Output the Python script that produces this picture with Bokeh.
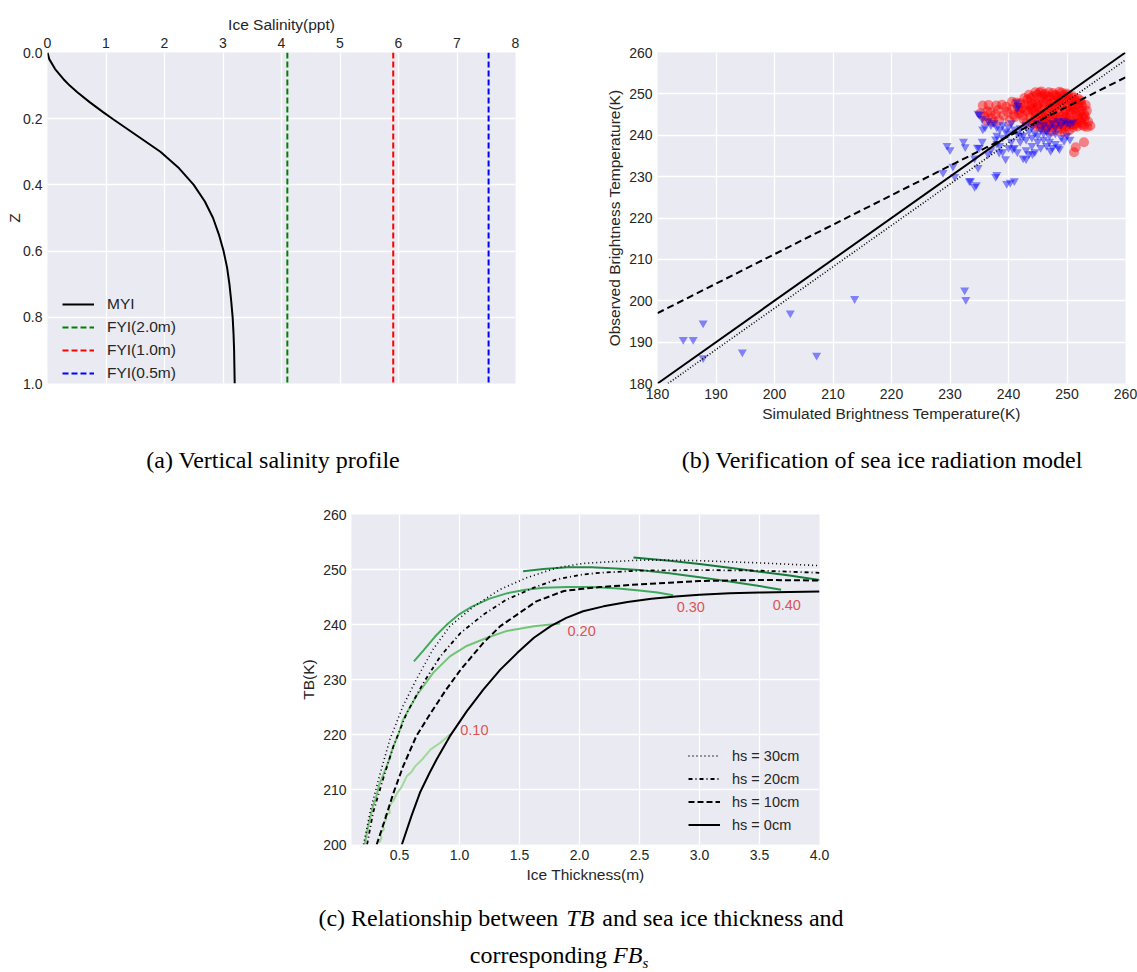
from bokeh.plotting import figure
from bokeh.layouts import column, row
from bokeh.models import Range1d, FixedTicker, Legend, LegendItem, NumeralTickFormatter, Div
from bokeh.embed import file_html
from bokeh.resources import INLINE
from bokeh.core.properties import value

# ---------------- (a) salinity profile ----------------
myi_z = [0.0, 0.02, 0.05, 0.08, 0.1, 0.12, 0.15, 0.18, 0.2, 0.25, 0.3, 0.35, 0.4, 0.45, 0.5, 0.55, 0.6, 0.65, 0.7, 0.75, 0.8, 0.85, 0.9, 0.95, 1.0]
myi_s = [0.0, 0.03, 0.13, 0.27, 0.38, 0.51, 0.72, 0.95, 1.11, 1.52, 1.93, 2.25, 2.50, 2.69, 2.83, 2.93, 3.01, 3.07, 3.11, 3.14, 3.165, 3.18, 3.19, 3.195, 3.20]
fyi_names = ["FYI(2.0m)", "FYI(1.0m)", "FYI(0.5m)"]
fyi_salinity = [4.1, 5.91, 7.54]
fyi_colors = ["#008000", "#ff0000", "#0000ff"]
sal_ticks = [0, 1, 2, 3, 4, 5, 6, 7, 8]
z_ticks = [0.0, 0.2, 0.4, 0.6, 0.8, 1.0]

# ---------------- (b) model verification ----------------
red_x = [235.6, 236.6, 237.9, 238.9, 240.6, 241.3, 235.2, 235.9, 236.4, 237.1, 237.8, 238.4, 239.2, 239.8, 240.5, 241.1, 241.8, 242.3, 242.0, 236.2, 237.4, 240.2, 242.6,
         243.2, 243.6, 243.4, 243.8, 243.1, 244.2, 244.5, 244.1, 244.7, 244.3, 244.8,
         245.3, 245.6, 245.2, 245.8, 245.4, 245.9, 245.5, 246.2, 246.5, 246.1, 246.7, 246.3, 246.8, 246.4,
         247.1, 247.5, 247.2, 247.7, 247.3, 247.8, 247.4, 248.2, 248.6, 248.1, 248.7, 248.3, 248.8, 248.4,
         249.1, 249.5, 249.2, 249.7, 249.3, 249.8, 249.4, 249.6, 250.2, 250.6, 250.1, 250.7, 250.3, 250.8, 250.4,
         251.2, 251.6, 251.1, 251.7, 251.3, 251.8, 252.3, 252.6, 252.2, 252.7, 252.4, 252.9,
         253.2, 253.4, 253.1, 253.6, 254.0, 253.5, 252.9, 251.5, 251.2,
         243.8, 244.9, 245.9, 246.9, 247.8, 248.7, 249.9, 250.9, 251.9,
         244.0, 245.0, 246.0, 247.0, 248.0, 249.0, 250.0, 251.0, 252.0,
         244.4, 245.3, 246.4, 247.5, 248.5, 249.5, 250.5, 251.5, 252.5,
         244.6, 245.6, 246.6, 247.6, 248.6, 249.6, 250.6, 251.6, 252.6,
         246.0, 247.0, 248.0, 249.0, 250.0, 251.0,
         243.5, 244.6, 245.6, 246.6, 247.6, 248.4, 249.4, 250.4, 251.4, 252.4,
         243.9, 244.9, 245.9, 246.9, 247.9, 248.9, 249.9, 250.9, 251.9, 252.9,
         244.2, 245.2, 246.2, 247.2, 248.2, 249.2, 250.2, 251.2, 252.2, 253.0,
         242.8, 242.4, 241.6, 243.0, 242.7, 239.6, 238.2, 236.9, 240.9, 241.9]
red_y = [247.2, 247.3, 247.2, 247.4, 248.1, 247.9, 245.3, 244.6, 245.8, 244.1, 245.0, 243.7, 244.8, 245.6, 246.3, 244.4, 245.3, 246.6, 247.8, 243.6, 243.2, 243.5, 243.8,
         248.6, 247.1, 245.6, 244.2, 242.9, 249.4, 248.0, 246.5, 245.1, 243.6, 242.2,
         250.3, 249.1, 247.7, 246.3, 244.8, 243.3, 241.9, 250.0, 248.6, 247.2, 245.7, 244.2, 242.8, 241.4,
         249.3, 248.0, 246.6, 245.1, 243.7, 242.3, 240.9, 249.6, 248.4, 247.0, 245.6, 244.1, 242.7, 241.2,
         250.3, 249.0, 247.6, 246.1, 244.6, 243.2, 241.8, 240.5, 249.7, 248.3, 246.9, 245.4, 244.0, 242.6, 241.2,
         249.0, 247.6, 246.2, 244.8, 243.4, 242.1, 248.4, 247.0, 245.6, 244.3, 243.0, 242.2,
         247.3, 245.9, 244.6, 243.3, 242.3, 242.0, 238.3, 237.1, 235.9,
         249.0, 249.8, 249.6, 250.4, 249.7, 250.5, 250.1, 249.5, 248.8,
         247.6, 246.9, 248.1, 247.6, 248.3, 248.5, 247.9, 247.3, 247.1,
         245.9, 245.4, 245.0, 246.9, 246.4, 245.3, 245.9, 245.6, 246.0,
         244.0, 243.5, 243.8, 244.2, 243.4, 243.9, 243.5, 242.8, 242.5,
         242.3, 241.9, 242.5, 241.5, 242.1, 241.9,
         249.8, 250.4, 250.6, 249.4, 250.2, 249.2, 249.7, 248.8, 248.3, 247.8,
         246.2, 247.4, 244.6, 246.4, 244.8, 247.3, 244.5, 246.7, 244.1, 245.2,
         242.8, 242.6, 243.0, 242.6, 243.0, 242.4, 242.8, 242.5, 243.6, 243.9,
         247.5, 244.8, 246.8, 246.0, 249.0, 246.9, 246.1, 245.5, 244.9, 246.0]
blue_x = [184.4, 186.1, 187.8, 187.8, 194.5, 202.7, 207.2, 213.7, 232.5, 232.7,
          229.5, 230.0, 232.3, 232.6, 228.8, 230.5, 230.8, 233.5, 234.5, 238.0, 239.7, 240.3, 241.0, 233.3, 234.2, 237.8,
          235.0, 234.2, 234.8, 236.5, 235.5, 234.7, 237.8, 238.4, 239.5, 243.0, 244.1, 240.7, 247.2, 248.7, 249.5,
          235.0, 235.5, 236.0, 236.5, 237.0, 237.5, 238.0, 238.5, 239.0, 239.5, 240.0, 240.5, 241.0, 241.5, 242.0, 242.5,
          243.0, 243.5, 244.0, 244.5, 245.0, 245.5, 246.0, 246.5, 247.0, 247.5, 248.0, 248.5, 249.0, 249.5, 250.0, 250.5, 251.0,
          241.4, 241.6, 241.5, 234.8, 235.6,
          237.0, 238.0, 238.5, 239.0, 240.0, 240.5, 241.0, 241.5, 242.0, 242.5, 243.0, 243.5, 244.0, 244.5, 245.0, 245.5,
          246.0, 246.5, 247.0, 247.5, 248.0, 248.5, 249.0, 250.0, 250.5, 244.0, 243.0, 242.0, 247.0, 248.0, 245.0, 246.0,
          239.0, 240.0, 238.0]
blue_y = [190.6, 190.6, 194.6, 186.2, 187.6, 197.0, 186.8, 200.5, 202.6, 200.3,
          237.5, 236.5, 238.5, 237.2, 231.0, 232.5, 230.0, 229.0, 228.0, 230.5, 228.3, 228.6, 229.0, 229.0, 227.6, 230.0,
          237.0, 234.5, 232.2, 235.5, 238.5, 237.1, 239.1, 235.9, 234.3, 234.3, 235.5, 236.7, 236.3, 236.7, 238.7,
          245.0, 244.0, 242.0, 243.5, 242.5, 243.0, 242.0, 241.5, 242.5, 241.0, 242.0, 243.0, 241.5, 240.5, 241.8, 240.0,
          242.5, 241.0, 242.0, 240.5, 243.0, 241.5, 242.5, 241.0, 242.0, 243.0, 242.0, 243.5, 242.5, 243.5, 243.0, 242.8, 243.2,
          248.0, 247.2, 246.5, 245.3, 241.5,
          236.5, 238.0, 237.5, 236.0, 237.0, 238.5, 237.0, 236.0, 238.5, 234.5, 236.5, 235.5, 237.5, 236.0, 238.5, 237.0,
          239.0, 237.5, 238.5, 237.0, 238.0, 237.2, 239.5, 240.0, 239.0, 239.5, 239.0, 240.0, 240.0, 240.5, 240.0, 240.5,
          239.5, 240.5, 240.0]
one_to_one_x = [180, 260]
one_to_one_y = [180, 260]
dotted_fit_x = [181.8, 260]
dotted_fit_y = [180, 258.2]
dashed_fit_x = [180, 260]
dashed_fit_y = [197.0, 254.0]
tb_ticks = [180, 190, 200, 210, 220, 230, 240, 250, 260]

# ---------------- (c) TB vs thickness ----------------
hs0_x = [0.52, 0.6, 0.67, 0.75, 0.81, 0.92, 1.06, 1.2, 1.34, 1.48, 1.62, 1.76, 1.89, 2.03, 2.2, 2.4, 2.6, 2.8, 3.0, 3.25, 3.5, 3.75, 4.0]
hs0_y = [200.0, 205.2, 209.4, 213.0, 215.5, 219.7, 224.2, 228.2, 231.8, 234.8, 237.6, 239.7, 241.2, 242.4, 243.3, 244.1, 244.7, 245.1, 245.4, 245.7, 245.8, 245.9, 246.0]
hs10_x = [0.31, 0.37, 0.45, 0.53, 0.64, 0.76, 0.89, 1.01, 1.2, 1.34, 1.48, 1.64, 1.87, 2.03, 2.17, 2.5, 2.75, 3.0, 3.5, 4.0]
hs10_y = [200.0, 203.9, 209.4, 214.2, 219.7, 223.9, 228.2, 231.8, 236.7, 239.7, 241.8, 244.2, 246.1, 246.5, 246.8, 247.3, 247.6, 247.9, 248.1, 248.0]
hs20_x = [0.23, 0.28, 0.37, 0.45, 0.56, 0.7, 0.84, 1.01, 1.2, 1.39, 1.62, 1.81, 2.03, 2.17, 2.5, 3.0, 3.5, 4.0]
hs20_y = [200.0, 205.8, 212.4, 217.9, 223.9, 229.4, 234.2, 238.5, 241.8, 244.5, 246.7, 248.2, 249.1, 249.4, 249.8, 249.9, 249.8, 249.4]
hs30_x = [0.2, 0.26, 0.34, 0.42, 0.53, 0.64, 0.78, 0.92, 1.12, 1.34, 1.56, 1.81, 2.03, 2.17, 2.5, 2.75, 3.0, 3.5, 4.0]
hs30_y = [200.0, 206.4, 213.0, 219.1, 225.2, 230.0, 235.5, 239.7, 243.3, 246.4, 248.5, 250.3, 251.1, 251.3, 251.7, 251.7, 251.6, 251.2, 250.7]
fb10_x = [0.33, 0.35, 0.34, 0.37, 0.36, 0.39, 0.38, 0.42, 0.41, 0.45, 0.48, 0.51, 0.53, 0.56, 0.6, 0.63, 0.69, 0.76, 0.84, 0.92]
fb10_y = [200.3, 201.2, 202.0, 202.7, 203.6, 204.6, 205.3, 205.8, 206.9, 208.0, 209.4, 210.2, 211.0, 212.4, 213.2, 214.2, 215.5, 217.3, 218.5, 220.0]
fb20_x = [0.21, 0.24, 0.28, 0.3, 0.33, 0.37, 0.41, 0.45, 0.49, 0.53, 0.64, 0.78, 0.92, 1.06, 1.23, 1.39, 1.62, 1.84]
fb20_y = [200.0, 203.5, 207.0, 208.2, 210.8, 213.0, 215.2, 217.9, 220.0, 222.7, 227.0, 231.2, 234.2, 236.1, 237.6, 238.8, 239.7, 240.2]
fb30_x = [0.62, 0.7, 0.8, 0.9, 1.0, 1.1, 1.25, 1.4, 1.55, 1.7, 1.9, 2.1, 2.3, 2.5, 2.65, 2.78]
fb30_y = [233.3, 235.3, 237.9, 240.1, 241.9, 243.2, 244.7, 245.7, 246.3, 246.7, 246.8, 246.8, 246.6, 246.2, 245.8, 245.3]
fb40_x = [1.53, 1.7, 1.9, 2.1, 2.3, 2.5, 2.75, 3.0, 3.25, 3.5, 3.68]
fb40_y = [249.7, 250.1, 250.4, 250.4, 250.2, 249.9, 249.3, 248.6, 247.8, 247.0, 246.3]
fb50_x = [2.45, 2.75, 3.0, 3.25, 3.5, 3.75, 4.0]
fb50_y = [252.2, 251.6, 251.0, 250.3, 249.6, 248.9, 248.1]
fb_label_x = [1.006, 1.9, 2.81, 3.61]
fb_label_y = [220.8, 238.9, 243.2, 243.6]
fb_label_text = ["0.10", "0.20", "0.30", "0.40"]
thick_ticks = [0.5, 1.0, 1.5, 2.0, 2.5, 3.0, 3.5, 4.0]
tb_c_ticks = [200, 210, 220, 230, 240, 250, 260]

BG = "#EAEAF2"
TXT = "#262626"
SANS = "Liberation Sans"


def style(p):
    p.background_fill_color = BG
    p.border_fill_color = "white"
    p.outline_line_color = None
    for ax in p.axis:
        ax.axis_line_color = None
        ax.major_tick_line_color = None
        ax.minor_tick_line_color = None
        ax.major_tick_in = 0
        ax.major_tick_out = 0
        ax.minor_tick_in = 0
        ax.minor_tick_out = 0
        ax.major_label_text_font = SANS
        ax.major_label_text_font_size = "14px"
        ax.major_label_text_color = TXT
        ax.axis_label_text_font = SANS
        ax.axis_label_text_font_size = "15.5px"
        ax.axis_label_text_font_style = "normal"
        ax.axis_label_text_color = TXT
        ax.major_label_standoff = 5
        ax.axis_label_standoff = 3
    for g in p.grid:
        g.grid_line_color = "white"
        g.grid_line_width = 1.3


def legend_style(leg, fs):
    leg.background_fill_alpha = 0
    leg.border_line_color = None
    leg.label_text_font = SANS
    leg.label_text_font_size = fs
    leg.label_text_color = TXT
    leg.padding = 0
    leg.margin = 0


# ---- figure a ----
pa = figure(width=580, height=428, x_range=Range1d(0, 8), y_range=Range1d(1.0, 0.0),
            x_axis_location="above", output_backend="svg", toolbar_location=None,
            min_border_left=47, min_border_right=65, min_border_top=52, min_border_bottom=45)
style(pa)
pa.xaxis.ticker = FixedTicker(ticks=sal_ticks)
pa.yaxis.ticker = FixedTicker(ticks=z_ticks)
pa.yaxis.formatter = NumeralTickFormatter(format="0.0")
pa.xaxis.axis_label = "Ice Salinity(ppt)"
pa.xaxis.axis_label_standoff = 2
pa.yaxis.axis_label = "Z"
pa.yaxis.axis_label_standoff = -3
items_a = []
r = pa.line(myi_s, myi_z, line_color="black", line_width=2)
items_a.append(LegendItem(label="MYI", renderers=[r]))
for name, s, c in zip(fyi_names, fyi_salinity, fyi_colors):
    r = pa.line([s, s], [0.0, 1.0], line_color=c, line_width=2, line_dash="6 3")
    items_a.append(LegendItem(label=name, renderers=[r]))
leg_a = Legend(items=items_a, location=(15, 0), glyph_width=32, label_standoff=13,
               spacing=3, label_height=20, glyph_height=20)
legend_style(leg_a, "15.5px")
pa.add_layout(leg_a)

# ---- figure b ----
pb = figure(width=557, height=428, x_range=Range1d(180, 260), y_range=Range1d(180, 260),
            output_backend="svg", toolbar_location=None,
            min_border_left=77, min_border_right=12, min_border_top=52, min_border_bottom=45)
style(pb)
pb.xaxis.ticker = FixedTicker(ticks=tb_ticks)
pb.yaxis.ticker = FixedTicker(ticks=tb_ticks)
pb.xaxis.axis_label = "Simulated Brightness Temperature(K)"
pb.yaxis.axis_label = "Observed Brightness Temperature(K)"
pb.scatter(red_x, red_y, marker="circle", size=10, fill_color="red", fill_alpha=0.45, line_color=None)
pb.scatter(blue_x, blue_y, marker="inverted_triangle", size=9, fill_color="blue", fill_alpha=0.45, line_color=None)
pb.line(one_to_one_x, one_to_one_y, line_color="black", line_width=2)
pb.line(dotted_fit_x, dotted_fit_y, line_color="black", line_width=1.6, line_dash="1 2")
pb.line(dashed_fit_x, dashed_fit_y, line_color="black", line_width=2, line_dash="7 4")

# ---- caption row a/b ----
SERIF_CSS = "font-family:'Liberation Serif','Times New Roman',serif;font-size:24px;color:black;line-height:1;"
SPAN = "position:absolute;white-space:nowrap;transform:translate(-50%,-50%);"
cap1 = Div(width=1137, height=50, margin=0, text=(
    f'<div style="position:relative;width:1137px;height:50px;{SERIF_CSS}">'
    f'<span style="{SPAN}left:273px;top:32px;">(a) Vertical salinity profile</span>'
    f'<span style="{SPAN}left:882px;top:32px;">(b) Verification of sea ice radiation model</span>'
    '</div>'))

# ---- figure c ----
pc = figure(width=1137, height=412, x_range=Range1d(0.1, 4.0), y_range=Range1d(200, 260),
            output_backend="svg", toolbar_location=None,
            min_border_left=351, min_border_right=318, min_border_top=36, min_border_bottom=46)
style(pc)
pc.xaxis.ticker = FixedTicker(ticks=thick_ticks)
pc.xaxis.formatter = NumeralTickFormatter(format="0.0")
pc.yaxis.ticker = FixedTicker(ticks=tb_c_ticks)
pc.xaxis.axis_label = "Ice Thickness(m)"
pc.yaxis.axis_label = "TB(K)"
pc.line(fb10_x, fb10_y, line_color="#a1d99b", line_width=2)
pc.line(fb20_x, fb20_y, line_color="#74c476", line_width=2)
pc.line(fb30_x, fb30_y, line_color="#41ab5d", line_width=2)
pc.line(fb40_x, fb40_y, line_color="#238b45", line_width=2)
pc.line(fb50_x, fb50_y, line_color="#137a3a", line_width=2)
r30 = pc.line(hs30_x, hs30_y, line_color="black", line_width=1.6, line_dash="1 3")
r20 = pc.line(hs20_x, hs20_y, line_color="black", line_width=1.8, line_dash="4 3 1 3")
r10 = pc.line(hs10_x, hs10_y, line_color="black", line_width=2, line_dash="6 3")
r0 = pc.line(hs0_x, hs0_y, line_color="black", line_width=2)
pc.text(x=fb_label_x, y=fb_label_y, text=fb_label_text, text_color="#dd5555",
        text_font=value(SANS), text_font_size="14.5px", text_align="left", text_baseline="middle")
leg_c = Legend(items=[LegendItem(label="hs = 30cm", renderers=[r30]),
                      LegendItem(label="hs = 20cm", renderers=[r20]),
                      LegendItem(label="hs = 10cm", renderers=[r10]),
                      LegendItem(label="hs = 0cm", renderers=[r0])],
               location=(337, 8), glyph_width=32, label_standoff=12, spacing=0,
               label_height=23, glyph_height=23)
legend_style(leg_c, "14.5px")
pc.add_layout(leg_c)

# ---- caption c ----
cap2 = Div(width=1137, height=82, margin=0, text=(
    f'<div style="position:relative;width:1137px;height:82px;{SERIF_CSS}">'
    f'<span style="{SPAN}left:581px;top:28px;">(c) Relationship between <i style="padding:0 2px;">TB</i> and sea ice thickness and</span>'
    f'<span style="{SPAN}left:559px;top:67px;">corresponding <i>FB<sub style="font-size:15px;">s</sub></i></span>'
    '</div>'))

layout = column(row(pa, pb), cap1, pc, cap2)
open("out.html", "w").write(file_html(layout, INLINE))
